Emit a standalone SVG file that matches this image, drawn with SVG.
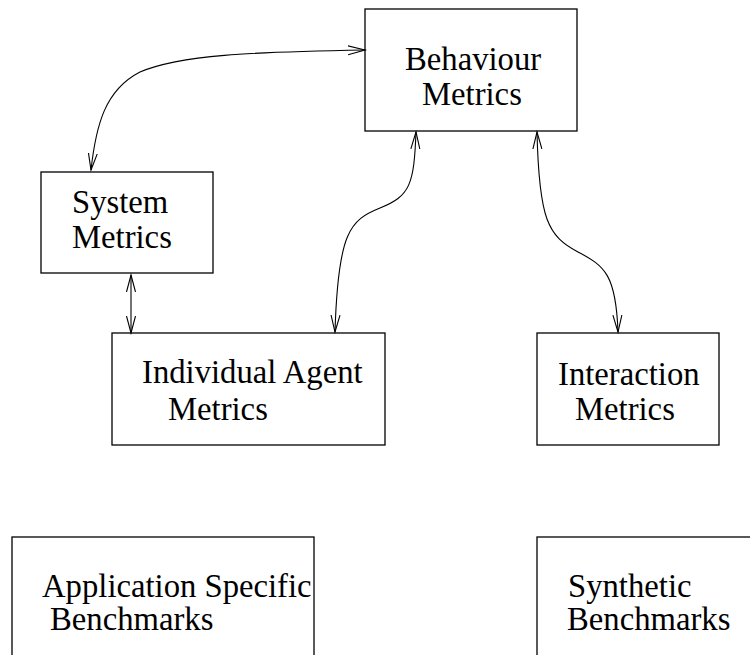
<svg xmlns="http://www.w3.org/2000/svg" width="750" height="655" viewBox="0 0 750 655">
<style>
.box{fill:#fff;stroke:#000;stroke-width:1.3}
.lbl{font-family:"Liberation Serif","Times New Roman",serif;font-size:32.7px;fill:#000}
.con{fill:none;stroke:#000;stroke-width:1.1}
</style>
<defs>
<marker id="ah" markerUnits="userSpaceOnUse" markerWidth="20" markerHeight="12" refX="17" refY="4.5" orient="auto-start-reverse" viewBox="0 0 20 9">
<path d="M0,0 L17,4.5 L0,9" fill="none" stroke="#000" stroke-width="1.1"/>
</marker>
</defs>
<rect width="750" height="655" fill="#fff"/>
<g id="behaviour">
<rect class="box" x="365" y="9" width="212" height="122"/>
<text class="lbl" x="405" y="70">Behaviour</text>
<text class="lbl" x="422" y="105">Metrics</text>
</g>
<g id="system">
<rect class="box" x="41" y="172" width="172" height="101"/>
<text class="lbl" x="72" y="213">System</text>
<text class="lbl" x="72" y="248">Metrics</text>
</g>
<g id="individual">
<rect class="box" x="112" y="333" width="273" height="112"/>
<text class="lbl" x="142" y="383">Individual Agent</text>
<text class="lbl" x="168" y="420">Metrics</text>
</g>
<g id="interaction">
<rect class="box" x="537" y="333" width="182" height="112"/>
<text class="lbl" x="558" y="385">Interaction</text>
<text class="lbl" x="575" y="420">Metrics</text>
</g>
<g id="application">
<rect class="box" x="12" y="537" width="302" height="130"/>
<text class="lbl" x="42" y="597">Application Specific</text>
<text class="lbl" x="50" y="630">Benchmarks</text>
</g>
<g id="synthetic">
<rect class="box" x="537" y="537" width="240" height="130"/>
<text class="lbl" x="568" y="597">Synthetic</text>
<text class="lbl" x="567" y="630">Benchmarks</text>
</g>
<g id="connectors">
<path class="con" marker-start="url(#ah)" marker-end="url(#ah)" d="M91,170 C96,125 105,90 140,72 C180,55 250,52 365,50"/>
<path class="con" marker-start="url(#ah)" marker-end="url(#ah)" d="M131,275 L131,333"/>
<path class="con" marker-start="url(#ah)" marker-end="url(#ah)" d="M416,132 C414,185 410,196 380,208 C350,220 338,232 335,332"/>
<path class="con" marker-start="url(#ah)" marker-end="url(#ah)" d="M537,132 C539,220 548,236 578,252 C605,266 616,275 618,332"/>
</g>
</svg>
